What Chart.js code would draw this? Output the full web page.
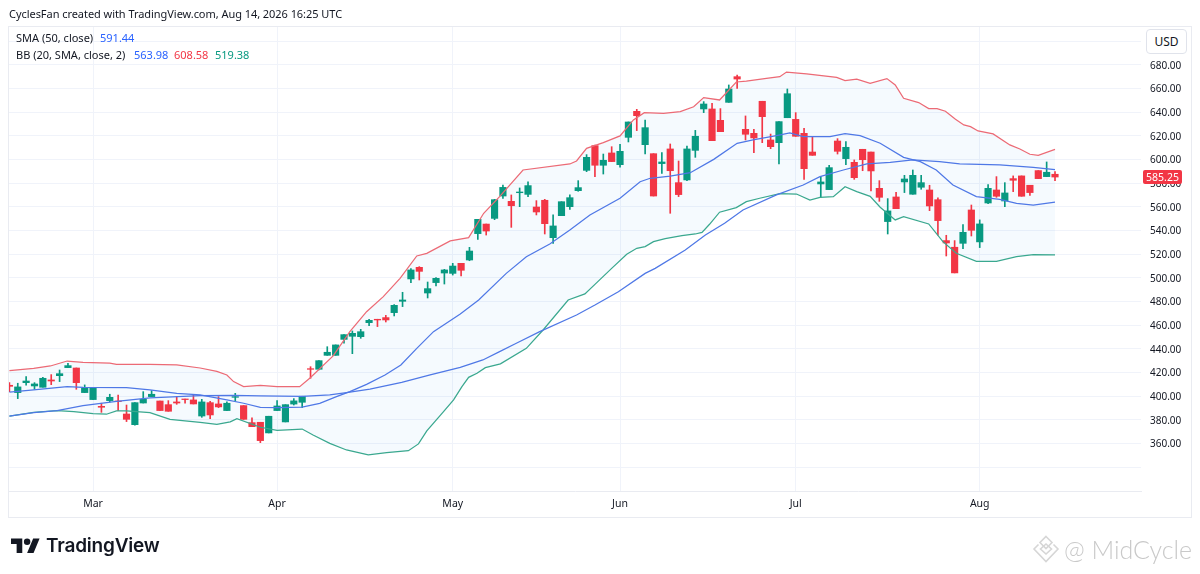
<!DOCTYPE html>
<html lang="en">
<head>
    <meta charset="UTF-8">
    <title>TradingView chart</title>
    <script src="https://cdn.jsdelivr.net/npm/chart.js"></script>
    <style>
        html, body { margin: 0; padding: 0; background: #fff; width: 1200px; height: 574px; overflow: hidden; }
        body { font-family: "Noto Sans", sans-serif; color: #131722; position: relative; }
        canvas { position: absolute; left: 0; top: 0; }
        .t { position: absolute; white-space: nowrap; line-height: 16px; }
        #frame { position: absolute; left: 8px; top: 26px; width: 1182px; height: 490px; border: 1px solid #e9ebf1; }
        #usd { position: absolute; left: 1146px; top: 29px; width: 39px; height: 23px; border: 1px solid #e0e3eb; border-radius: 4px;
               background: #fff; font-size: 12px; line-height: 23px; text-align: center; }
        #tag { position: absolute; left: 1143px; width: 39px; height: 14px; background: #f23645; color: #fff; border-radius: 2px;
               font-size: 10.5px; line-height: 14px; text-align: center; }
    </style>
</head>
<body>
    <div id="frame"></div>
    <canvas id="chart" width="1200" height="574"></canvas>
    <div class="t" style="left:9px;top:6px;font-size:11px;letter-spacing:-0.05px">CyclesFan created with TradingView.com, Aug 14, 2026 16:25 UTC</div>
    <div class="t" style="left:16px;top:30px;font-size:11px">SMA (50, close)</div>
    <div class="t" style="left:100px;top:30px;font-size:11px;color:#2962ff">591.44</div>
    <div class="t" style="left:16px;top:47px;font-size:11px">BB (20, SMA, close, 2)</div>
    <div class="t" style="left:134px;top:47px;font-size:11px;color:#2962ff">563.98</div>
    <div class="t" style="left:174px;top:47px;font-size:11px;color:#f23645">608.58</div>
    <div class="t" style="left:215px;top:47px;font-size:11px;color:#089981">519.38</div>
    <div id="usd">USD</div>
    <div id="tag"></div>

    <svg style="position:absolute;left:11px;top:535px" width="29" height="23" viewBox="0 0 36 28">
        <path fill="#131722" d="M14 22H7V11H0V4h14v18zM28 22h-8l7.5-18h8L28 22z"/>
        <circle fill="#131722" cx="20" cy="8" r="4"/>
    </svg>
    <div class="t" style="left:46px;top:536px;line-height:20px;font-family:Inter,sans-serif;font-weight:600;font-size:19px;letter-spacing:-0.2px">TradingView</div>

    <svg style="position:absolute;left:1032px;top:535px" width="28" height="28" viewBox="0 0 28 28" fill="none" stroke="#d6d6d6" stroke-width="1.6">
        <path d="M14 1.5L20 7.5L14 13.5L8 7.5Z"/>
        <path d="M14 9L19.5 14L14 19L8.5 14Z"/>
        <path d="M6.5 9.5L2 14L14 26.5L26 14L21.5 9.5"/>
    </svg>
    <div class="t" style="left:1064px;top:534px;line-height:30px;font-family:Lato,sans-serif;font-weight:300;font-size:25px;color:#c9c9c9">@ MidCycle</div>

    <script>
        // candles, one per trading day
        const opens = [
            409.2, 403.0, 411.4, 408.6, 407.5, 413.7, 417.3, 424.1, 423.8, 403.0,
            397.1, 391.4, 396.2, 395.9, 384.9, 375.9, 394.2, 399.6, 395.9, 392.8,
            395.1, 397.6, 396.8, 383.2, 394.5, 393.4, 387.8, 399.0, 392.0, 377.6,
            377.9, 368.9, 387.8, 378.2, 393.3, 394.8, 423.2, 422.7, 434.5, 434.5,
            448.0, 450.6, 450.3, 462.1, 465.0, 466.4, 470.6, 480.2, 499.1, 508.9,
            487.2, 496.0, 504.1, 503.8, 512.3, 515.1, 537.4, 545.5, 550.3, 569.2,
            564.7, 572.0, 570.6, 559.9, 565.6, 534.0, 552.6, 560.2, 573.7, 590.9,
            611.8, 595.2, 605.6, 595.7, 618.8, 640.8, 612.6, 605.0, 596.6, 609.0,
            580.5, 582.8, 607.8, 642.8, 642.8, 633.2, 648.4, 670.1, 625.6, 622.2,
            649.3, 616.6, 614.3, 635.4, 634.0, 622.2, 606.4, 579.4, 574.6, 615.7,
            600.8, 597.7, 608.7, 606.4, 575.7, 547.6, 568.4, 581.1, 570.7, 576.6,
            574.3, 566.1, 531.5, 525.9, 529.2, 557.4, 530.4, 563.3, 574.3, 565.0,
            583.9, 586.2, 578.3, 590.7, 585.6, 587.6
        ];
        const closes = [
            408.3, 407.8, 412.8, 410.3, 415.1, 412.8, 419.0, 425.8, 411.4, 406.6,
            406.6, 390.6, 399.0, 395.4, 380.4, 394.5, 397.3, 401.6, 387.8, 387.2,
            394.2, 397.1, 393.4, 395.1, 384.1, 390.9, 394.0, 399.6, 380.4, 374.2,
            362.4, 383.0, 391.7, 392.8, 396.0, 399.9, 422.7, 430.0, 437.1, 443.3,
            452.0, 453.1, 454.5, 464.1, 464.4, 464.4, 476.8, 481.3, 506.7, 505.5,
            490.9, 499.6, 506.7, 510.0, 506.4, 522.7, 549.5, 539.6, 566.1, 576.5,
            561.0, 572.6, 578.0, 555.7, 545.8, 543.9, 564.4, 567.8, 576.3, 601.9,
            595.2, 599.4, 598.3, 607.0, 631.8, 637.1, 627.0, 569.2, 598.0, 590.6,
            570.4, 609.0, 619.7, 647.0, 616.0, 623.6, 659.7, 668.1, 621.4, 618.3,
            636.3, 610.9, 632.1, 655.7, 619.7, 592.3, 603.6, 581.1, 593.2, 607.0,
            610.4, 584.7, 599.9, 590.4, 568.1, 556.6, 558.5, 583.6, 586.7, 580.5,
            560.8, 548.4, 529.5, 504.2, 538.5, 540.2, 545.6, 575.7, 569.0, 571.8,
            582.5, 569.0, 572.1, 583.9, 589.3, 585.25
        ];
        const highs = [
            411.4, 410.9, 416.5, 411.4, 415.9, 418.2, 422.1, 427.8, 423.8, 409.5,
            407.5, 394.0, 401.6, 401.0, 392.5, 394.5, 403.8, 404.7, 395.9, 396.2,
            399.6, 397.6, 401.0, 397.3, 395.6, 399.6, 395.1, 402.4, 392.0, 381.6,
            377.9, 383.0, 396.2, 392.8, 397.9, 399.9, 424.9, 430.0, 441.8, 443.3,
            452.0, 455.1, 456.5, 465.0, 465.0, 468.3, 477.4, 487.8, 507.8, 509.5,
            496.5, 500.2, 507.2, 512.3, 512.3, 525.8, 549.5, 545.5, 566.4, 578.5,
            570.1, 576.0, 581.1, 565.3, 566.4, 553.4, 564.4, 570.1, 582.2, 604.2,
            612.3, 604.7, 610.9, 612.9, 631.8, 642.5, 633.5, 605.0, 605.9, 613.2,
            598.8, 611.5, 624.7, 649.0, 647.6, 643.1, 663.1, 671.5, 636.9, 625.6,
            649.3, 621.6, 632.1, 659.7, 639.7, 626.4, 618.8, 585.6, 595.2, 617.7,
            615.2, 599.7, 608.7, 606.4, 582.2, 567.0, 572.3, 586.7, 591.2, 586.7,
            578.3, 567.6, 536.0, 531.5, 545.0, 561.6, 549.0, 578.8, 585.6, 580.5,
            586.2, 586.2, 578.3, 590.7, 598.0, 589.8
        ];
        const lows = [
            403.8, 397.9, 409.2, 405.8, 407.5, 409.7, 412.3, 424.1, 405.8, 403.0,
            397.1, 386.3, 395.1, 387.8, 378.5, 375.4, 394.2, 399.6, 387.8, 387.2,
            393.1, 394.0, 393.4, 382.1, 381.0, 390.3, 387.8, 395.9, 380.4, 374.2,
            360.7, 368.9, 387.8, 378.2, 392.5, 390.3, 415.1, 422.1, 434.5, 434.5,
            444.7, 435.9, 448.9, 459.6, 458.8, 462.7, 467.8, 475.7, 496.0, 498.2,
            483.0, 493.1, 494.8, 502.4, 501.6, 514.5, 532.6, 536.2, 549.2, 567.2,
            542.7, 560.2, 568.7, 553.2, 537.1, 529.2, 552.6, 557.9, 573.2, 589.8,
            585.6, 587.8, 598.3, 593.5, 614.9, 624.5, 604.7, 569.2, 588.4, 554.6,
            568.7, 582.2, 601.9, 639.7, 616.0, 623.6, 648.4, 660.2, 616.6, 605.9,
            614.3, 609.2, 596.3, 635.4, 619.7, 583.3, 603.6, 568.1, 574.6, 604.7,
            595.7, 583.3, 590.6, 573.5, 564.7, 537.1, 558.5, 572.1, 570.7, 574.9,
            556.8, 536.0, 518.5, 504.2, 524.7, 535.4, 525.6, 562.8, 568.1, 560.2,
            572.9, 569.0, 569.8, 583.9, 585.6, 582.2
        ];

        // indicator lines at their bends (x = candle number)
        const upperX = [0, 2.9, 4.9, 6.9, 8.8, 12, 12.8, 16.8, 20, 22.8, 24.8, 26, 26.8, 28, 30, 32, 34.7, 35.9, 38.7, 40.7, 42.7, 44.7, 46.7, 48.7, 49.9, 52.7, 54.9, 56.7, 58.6, 61.4, 67, 67.8, 69, 71, 73, 74.6, 75.9, 78.2, 80.2, 81.8, 83, 84.9, 86.9, 88.1, 90.5, 92.1, 92.9, 95.3, 98.9, 99.9, 101.3, 102.9, 104.9, 105.9, 106.9, 108.7, 109.9, 110.9, 111.9, 113.1, 114.1, 114.9, 115.8, 117.6, 119.6, 120.8, 122, 123, 125];
        const upperY = [421.6, 423.5, 425.5, 429.7, 428.6, 428, 426.9, 426.9, 426.4, 423.8, 421, 417.9, 412.3, 408, 409.2, 408, 408, 415.1, 434, 454.5, 471.4, 484.1, 499.6, 518.5, 520.7, 531.2, 534, 554.6, 568.7, 591.2, 596.3, 598.8, 609.5, 614.3, 620, 633.5, 639.7, 639.1, 640.5, 644.7, 652.4, 650.4, 665.6, 666.4, 668.7, 670.1, 674, 672.4, 669.5, 666.7, 668.1, 664.5, 668.5, 663.1, 651.8, 648.2, 643.1, 643.1, 640.9, 634.1, 629.3, 627.9, 624.2, 621.7, 612.4, 609, 604.5, 603.6, 608.58];

        const basisX = [0, 2.9, 6.9, 8.8, 14, 16.8, 20, 22.8, 26, 28, 30, 32, 35, 37.1, 39.1, 40.7, 42.7, 44.9, 46.8, 48.7, 50.7, 53.9, 56.1, 59.4, 61.8, 64.6, 67, 69.4, 73, 75.4, 76.6, 79, 81.4, 84.2, 87, 88.9, 91.7, 93.3, 94.9, 98.1, 99.9, 101.7, 104.1, 106.9, 108.9, 110.8, 112.8, 115.6, 118.4, 120.4, 122.4, 125];
        const basisY = [403.3, 405.2, 408, 407.5, 407.2, 405.2, 402.4, 401, 396.8, 394, 390.6, 390.3, 390.8, 393.9, 399.6, 403.8, 410, 417.9, 426.3, 440.4, 454.5, 469.5, 481.3, 503.8, 517.9, 528.6, 540.5, 553.2, 567.3, 581.3, 584.2, 586.1, 588.9, 600.2, 613.8, 616.6, 620.2, 622.5, 619.4, 619.4, 621.9, 620.3, 613.8, 601.9, 598.3, 591.2, 578.5, 568.7, 566.4, 563, 561.4, 563.98];

        const lowerX = [0, 2.9, 5.7, 7.7, 10, 11.6, 12.8, 14, 16.8, 19.2, 22.8, 24.8, 26.4, 27.2, 30, 32, 35, 36.3, 38.3, 40.3, 42.9, 45.1, 47.7, 48.9, 49.9, 51.9, 53.1, 54.1, 54.9, 55.9, 56.9, 58.7, 61.8, 63.8, 66.8, 68.8, 70, 72, 73.8, 75, 76, 77, 78.4, 80.4, 82, 82.8, 83.7, 84.9, 86.9, 88.1, 89.7, 92.1, 94.1, 95.7, 96.9, 98.5, 99.9, 101.3, 102.9, 104.1, 105.9, 106.9, 109.9, 111.6, 113.2, 115.6, 118, 120.4, 122.4, 125];
        const lowerY = [383.2, 386.3, 387.8, 386.9, 385.2, 384.7, 387.5, 387.5, 386.1, 380.4, 377.9, 376.2, 378.2, 381, 373.7, 371.1, 372.2, 367.2, 360.1, 354.5, 350.3, 352.2, 353.9, 359.6, 370.6, 386.9, 396.8, 408, 415.9, 419.3, 424.1, 427.3, 440.4, 455.9, 481.3, 486.4, 494.5, 508, 519.9, 525, 526.4, 530.6, 533.1, 535.7, 537.1, 538.5, 545.3, 555.5, 559.4, 564.4, 567.3, 571.2, 570.9, 565.8, 568.1, 568.7, 577.1, 572.9, 568.9, 559.7, 549, 551.8, 545.6, 530.6, 520.8, 514, 514, 518, 519.6, 519.38];

        const smaX = [0, 2.9, 5.7, 8.8, 12.8, 16.8, 22.8, 26.8, 30, 35, 38.3, 40.3, 43.1, 46.9, 50.3, 53.9, 56.6, 58.6, 60.6, 63.4, 67.8, 70, 72.8, 76, 77.2, 80.8, 83.2, 85.5, 87.7, 91.7, 94.9, 96.9, 99.7, 102.5, 105.3, 108, 111.2, 113.6, 118.4, 122.4, 125];
        const smaY = [383.2, 386.1, 387.8, 392, 395.6, 398.5, 400.4, 400.7, 400.2, 399.9, 401, 403, 406, 411.7, 417.9, 424.4, 430.6, 437.6, 444.7, 454.5, 468.6, 477, 488.3, 503.8, 508, 523.6, 536.2, 546.1, 557.4, 570.1, 578.5, 585.6, 591.2, 596.3, 597.7, 599.7, 598.3, 596.3, 595.5, 593.5, 591.44];

        const monthTicks = [10, 32, 53, 73, 94, 116];
        const monthLabels = ['Mar', 'Apr', 'May', 'Jun', 'Jul', 'Aug'];
        const priceTicks = [340, 360, 380, 400, 420, 440, 460, 480, 500, 520, 540, 560, 580, 600, 620, 640, 660, 680, 700];

        const GREEN = '#089981';
        const RED = '#f23645';
        // the indicator lines look softer than the candles in the picture
        const LINE_BLUE = '#4f78e6';
        const LINE_RED = '#ec6a75';
        const LINE_GREEN = '#3aa88f';

        const candleIdx = opens.map((_, i) => i);
        const candleColors = candleIdx.map(i => closes[i] >= opens[i] ? GREEN : RED);

        function linePoints(xs, ys) {
            return xs.map((x, i) => ({ x: x, y: ys[i] }));
        }

        function lineSet(label, xs, ys, color, extra) {
            return Object.assign({
                type: 'line',
                label: label,
                data: linePoints(xs, ys),
                borderColor: color,
                borderWidth: 1.25,
                pointRadius: 0,
                tension: 0,
                fill: false,
                order: 0
            }, extra);
        }

        const chart = new Chart(document.getElementById('chart'), {
            type: 'bar',
            data: {
                datasets: [
                    {
                        label: 'wick',
                        data: candleIdx.map(i => ({ x: i, y: [lows[i], highs[i]] })),
                        backgroundColor: candleColors,
                        barThickness: 1,
                        grouped: false,
                        order: 2
                    },
                    {
                        label: 'body',
                        data: candleIdx.map(i => ({ x: i, y: [opens[i], closes[i]] })),
                        backgroundColor: candleColors,
                        barThickness: 6.5,
                        grouped: false,
                        order: 1
                    },
                    lineSet('SMA 50', smaX, smaY, LINE_BLUE),
                    lineSet('BB basis', basisX, basisY, LINE_BLUE),
                    lineSet('BB upper', upperX, upperY, LINE_RED, { fill: '+1', backgroundColor: 'rgba(33,150,243,0.045)' }),
                    lineSet('BB lower', lowerX, lowerY, LINE_GREEN)
                ]
            },
            options: {
                responsive: false,
                animation: false,
                events: [],
                layout: { padding: { left: 9, top: 27, right: 0, bottom: 57 } },
                plugins: {
                    legend: { display: false },
                    tooltip: { enabled: false },
                    filler: { drawTime: 'beforeDatasetsDraw' }
                },
                scales: {
                    x: {
                        type: 'linear',
                        offset: false,
                        min: -0.048,
                        max: 135.28,
                        afterBuildTicks: axis => { axis.ticks = monthTicks.map(v => ({ value: v })); },
                        afterFit: axis => { axis.height = 26; },
                        grid: { color: '#f0f3fa', offset: false, drawTicks: false },
                        border: { display: true, color: '#e9ebf1' },
                        ticks: {
                            autoSkip: false,
                            maxRotation: 0,
                            padding: 7,
                            color: '#131722',
                            font: { family: '"Noto Sans", sans-serif', size: 10.5 },
                            callback: v => monthLabels[monthTicks.indexOf(v)]
                        }
                    },
                    y: {
                        position: 'right',
                        min: 319.8,
                        max: 712.1,
                        afterBuildTicks: axis => { axis.ticks = priceTicks.map(v => ({ value: v })); },
                        afterFit: axis => { axis.width = 59; },
                        grid: { color: '#f0f3fa', drawTicks: false },
                        border: { display: false },
                        ticks: {
                            padding: 9,
                            labelOffset: 1,
                            color: '#131722',
                            font: { family: '"Noto Sans", sans-serif', size: 10 },
                            callback: v => (v === 340 || v === 700) ? '' : v.toFixed(2)
                        }
                    }
                }
            }
        });

        // last price tag on the price axis
        const tag = document.getElementById('tag');
        const lastClose = closes[closes.length - 1];
        tag.textContent = lastClose.toFixed(2);
        tag.style.top = (chart.scales.y.getPixelForValue(lastClose) - 7) + 'px';
    </script>
</body>
</html>
